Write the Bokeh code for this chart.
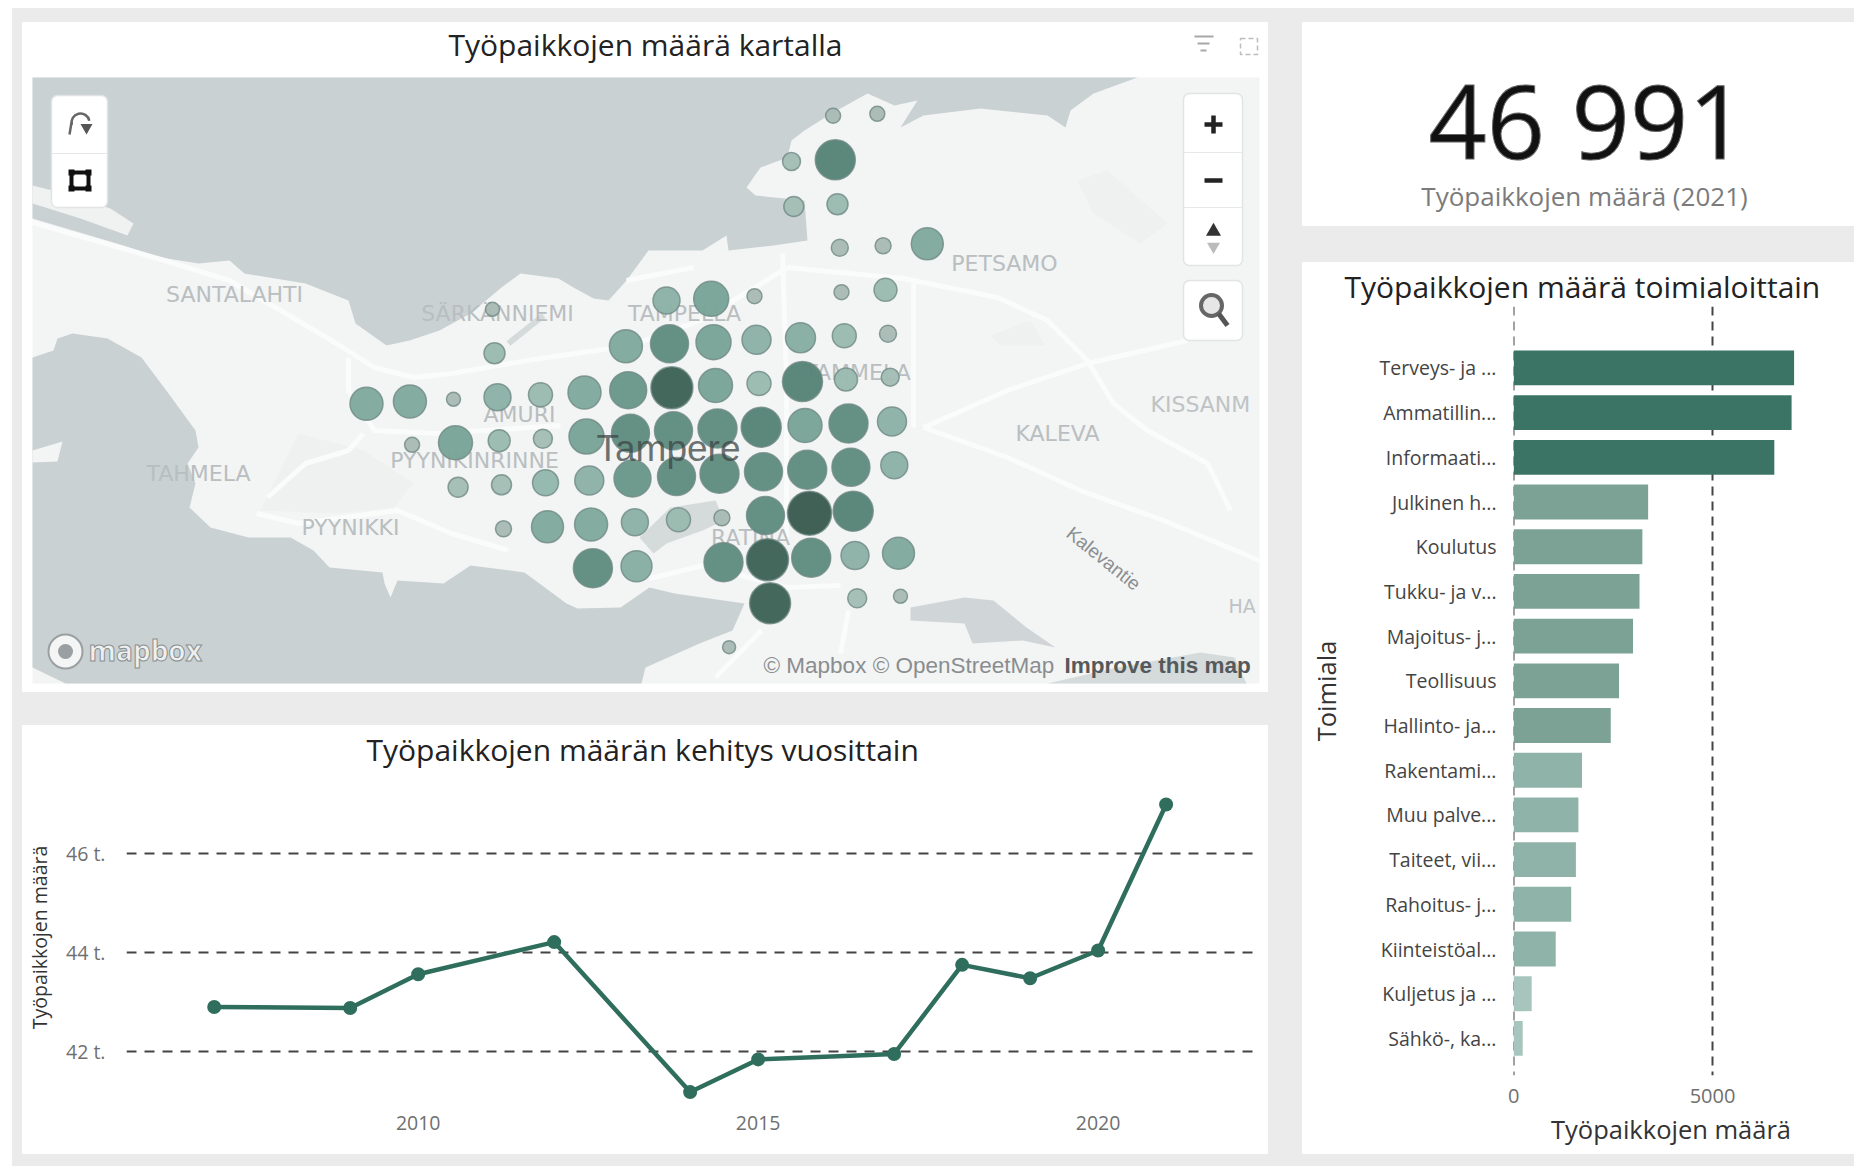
from bokeh.plotting import figure
from bokeh.layouts import row, column
from bokeh.embed import file_html
from bokeh.resources import INLINE
from bokeh.core.properties import value
from bokeh.models import Range1d, FixedTicker, LinearColorMapper, ColumnDataSource
from bokeh.transform import transform

# ---------- data ----------
KPI_VALUE = "46 991"
KPI_LABEL = "Työpaikkojen määrä (2021)"

years = [2007, 2009, 2010, 2012, 2014, 2015, 2017, 2018, 2019, 2020, 2021]
jobs_by_year = [42900, 42880, 43560, 44210, 41180, 41840, 41950, 43750, 43480, 44040, 46991]

industries = ["Terveys- ja ...", "Ammatillin...", "Informaati...", "Julkinen h...", "Koulutus",
              "Tukku- ja v...", "Majoitus- j...", "Teollisuus", "Hallinto- ja...", "Rakentami...",
              "Muu palve...", "Taiteet, vii...", "Rahoitus- j...", "Kiinteistöal...", "Kuljetus ja ...",
              "Sähkö-, ka..."]
industry_jobs = [7050, 6987, 6553, 3380, 3235, 3163, 3000, 2648, 2440, 1717, 1627, 1564, 1446, 1057, 452, 226]

# map grid cells: position on the map and jobs in the cell
cell_x = [832.6, 876.8, 791, 834.8, 793.3, 837, 839.3, 882.6, 926.8, 841, 885, 666, 710.7, 754, 492, 800, 843.8, 887.5,
          625.4, 669, 713, 756, 494,
          366, 409.4, 453, 497, 540, 584, 627.7, 671.4, 715, 758.5, 802, 845.5, 889.7,
          411.6, 455, 498.7, 542.4, 586, 630, 673, 717, 760.7, 804.5, 848, 891.5,
          457.6, 501, 545, 588.8, 632, 676, 719, 763, 806.7, 850.4, 893.8,
          503, 547, 590.6, 634.4, 678, 721.4, 765, 809, 852.7,
          592.4, 636, 723, 767, 810.7, 854.5, 898,
          769.6, 856.7, 900, 728.6]
cell_y = [115.3, 113.3, 161, 159.3, 206, 203.7, 247.3, 245.3, 243.3, 291.7, 289.3, 300, 298.3, 295.7, 308.7, 337.3, 335.3, 333.3,
          345.7, 343.3, 341.7, 339.3, 352.7,
          403.3, 401, 398.7, 396.7, 394.3, 392, 389.7, 387.3, 385, 383, 381, 379, 376.7,
          444.3, 442.3, 440.3, 438.3, 436, 432.7, 430.3, 428, 426.7, 425, 423, 421,
          486.7, 484.3, 482.3, 480, 478, 476, 473.3, 471.3, 469.3, 466.7, 464.7,
          528.3, 526.3, 524, 521.7, 519.3, 517.3, 515, 512.7, 510.7,
          567.7, 565.7, 561.7, 559.3, 557.3, 555, 552.7,
          602.7, 597.7, 595.7, 646.7]
cell_jobs = [132, 132, 190, 941, 235, 260, 170, 150, 602, 132, 311, 429, 721, 132, 115, 529, 339, 170,
             641, 849, 721, 495, 260,
             641, 641, 115, 429, 339, 641, 805, 1038, 680, 339, 941, 311, 190,
             132, 680, 285, 212, 721, 849, 849, 895, 941, 680, 895, 495,
             235, 235, 398, 495, 805, 849, 895, 849, 895, 849, 429,
             150, 602, 641, 429, 339, 150, 849, 1139, 941,
             895, 565, 895, 1038, 895, 461, 602,
             989, 212, 115, 100]

north_water_x = [32, 1137, 1093, 1070, 1065, 1047, 980, 923, 900, 917, 894, 867, 849, 831, 804, 791, 787, 760, 746, 755, 804, 807,
                 773, 728, 726, 702, 648, 626, 608, 593, 573, 558, 520, 501, 470, 439, 409, 386, 355, 348, 305, 244, 229, 198,
                 160, 123, 32]
north_water_y = [77, 77, 93, 110, 127, 115, 108, 115, 127, 100, 105, 93, 103, 113, 130, 140, 157, 167, 187, 195, 200, 240,
                 245, 250, 235, 250, 250, 280, 300, 298, 287, 278, 273, 287, 313, 330, 340, 345, 323, 300, 283, 273, 260, 263,
                 257, 245, 218]
strip_x = [32, 60, 110, 133, 127, 80, 32]
strip_y = [185, 192, 208, 223, 235, 218, 203]
south_water_x = [32, 53, 57, 72, 107, 141, 168, 195, 198, 187, 195, 189, 210, 248, 290, 313, 329, 382, 384, 390, 397, 443, 470,
                 524, 566, 577, 620, 649, 674, 744, 732, 699, 645, 641, 65, 32]
south_water_y = [357, 350, 338, 333, 338, 357, 393, 430, 447, 463, 483, 507, 527, 537, 537, 550, 567, 572, 583, 597, 580, 583, 565,
                 572, 603, 608, 607, 587, 593, 603, 630, 643, 667, 683, 683, 667]
island_x = [32, 62, 57, 32]
island_y = [450, 441, 461, 462]
east_pond_x = [910, 964, 993, 1026, 1055, 1022, 972, 964, 910]
east_pond_y = [607, 597, 600, 627, 647, 640, 643, 623, 620]
se_water_x = [1047, 1117, 1200, 1234, 1246]
se_water_y = [683, 667, 652, 657, 683]
lake_x = [639, 670, 715, 724, 702, 666, 653]
lake_y = [537, 507, 500, 520, 530, 543, 553]
road_xs = [[32, 164, 229, 275, 336, 374, 413, 451, 527, 630, 700, 787],
           [787, 903, 997, 1047, 1087, 1113, 1147, 1207, 1230],
           [923, 1007, 1087, 1187],
           [923, 1007, 1080, 1163, 1259],
           [913, 913],
           [782, 786, 786],
           [649, 703, 786, 840],
           [848, 840],
           [761, 715],
           [256, 298, 397, 451, 508],
           [267, 305, 348, 363],
           [348, 348, 374, 436, 560],
           [626, 693]]
road_ys = [[222, 260, 280, 307, 343, 367, 377, 373, 360, 345, 320, 267],
           [267, 278, 297, 320, 360, 403, 430, 463, 510],
           [427, 390, 363, 340],
           [427, 457, 490, 520, 560],
           [283, 427],
           [253, 380, 540],
           [578, 565, 587, 585],
           [610, 653],
           [630, 677],
           [513, 523, 510, 533, 550],
           [497, 463, 450, 433],
           [357, 390, 430, 433, 425],
           [280, 267]]
park_xs = [[260, 298, 363, 413, 393, 336],
           [1077, 1107, 1167, 1140, 1093],
           [990, 1030, 1045, 1000]]
park_ys = [[510, 433, 450, 483, 507, 513],
           [180, 170, 223, 243, 213],
           [335, 320, 345, 345]]

area_names = ["SANTALAHTI", "SÄRKÄNNIEMI", "TAMPELLA", "AMURI", "PYYNIKINRINNE", "TAHMELA", "PYYNIKKI", "RATINA", "TAMMELA",
              "PETSAMO", "KALEVA"]
area_x = [234, 497, 684, 519, 474, 198, 350, 750, 857, 1004, 1057]
area_y = [294, 313, 313, 414, 460, 473, 527, 537, 372, 263, 433]

OPEN = value("Open Sans")
PANEL = "#ffffff"
GREEN = "#2f6e5d"
TITLE_COLOR = "#222222"
PANEL_STYLE = {"background-color": PANEL}

# ---------- map panel ----------
m = figure(width=1246, height=670, x_range=Range1d(22, 1268), y_range=Range1d(692, 22),
           x_axis_location=None, y_axis_location=None, toolbar_location=None, output_backend="svg",
           min_border=0, outline_line_color=None, background_fill_color=PANEL, border_fill_color=PANEL,
           margin=(14, 0, 0, 10), frame_align=False, styles=PANEL_STYLE)
m.grid.visible = False

LAND, WATER = "#f3f4f4", "#c9d1d3"
m.quad(left=[32], right=[1259], top=[77], bottom=[683], fill_color=LAND, line_color=None)
m.multi_polygons(xs=[[[park_xs[i]]] for i in range(3)], ys=[[[park_ys[i]]] for i in range(3)],
                 fill_color="#eff0f0", line_color=None)
for px, py, col in [(north_water_x, north_water_y, WATER), (strip_x, strip_y, "#f0f1f1"),
                    (south_water_x, south_water_y, WATER), (island_x, island_y, LAND),
                    (east_pond_x, east_pond_y, "#d0d6d8"), (se_water_x, se_water_y, "#d5dadb"),
                    (lake_x, lake_y, "#d5dadb")]:
    m.patch(px, py, fill_color=col, line_color=None)
m.multi_line(road_xs, road_ys, line_color="#fafbfb", line_width=5)
m.line([508, 543], [343, 315], line_color="#d5dadb", line_width=6)
m.text(x=area_x, y=area_y, text=area_names, text_font=value("DejaVu Sans"), text_font_size="22px", text_color="#b9bec0",
       text_align="center", text_baseline="middle")
m.text(x=[1150], y=[404], text=["KISSANM"], text_font=value("DejaVu Sans"), text_font_size="22px",
       text_color="#bec3c5", text_align="left", text_baseline="middle")
m.text(x=[1228], y=[605], text=["HA"], text_font=value("DejaVu Sans"), text_font_size="19px",
       text_color="#bec3c5", text_align="left", text_baseline="middle")
m.text(x=[1103], y=[558], text=["Kalevantie"], angle=[-0.68], text_font=value("Liberation Sans"), text_font_size="19px",
       text_color="#8b8f91", text_align="center", text_baseline="middle")

palette = ["#a9bab5", "#a3bdb5", "#9abbb1", "#93b7ad", "#8cb2a7", "#87aea3", "#80a99d", "#79a497",
           "#6a988b", "#5f8d80", "#578478", "#3f6358", "#3b5c52"]
mapper = LinearColorMapper(palette=palette, low=100, high=1140)
cells = ColumnDataSource(dict(x=cell_x, y=cell_y, jobs=cell_jobs, size=[(j * 1.7) ** 0.5 for j in cell_jobs]))
m.scatter("x", "y", size="size", source=cells, fill_color=transform("jobs", mapper), fill_alpha=0.97,
          line_color="#6f8a84", line_width=1.5, line_alpha=0.8)

m.text(x=[668], y=[448], text=["Tampere"], text_font=value("Liberation Sans"), text_font_size="37px", text_color="#3e4646",
       text_alpha=0.75, text_align="center", text_baseline="middle")

# map attribution and logo
m.text(x=[763], y=[665], text=["© Mapbox © OpenStreetMap"], text_font=value("Liberation Sans"), text_font_size="22.5px",
       text_color="#8a8d8f", text_baseline="middle")
m.text(x=[1064], y=[665], text=["Improve this map"], text_font=value("Liberation Sans"), text_font_style="bold",
       text_font_size="22.5px", text_color="#55595b", text_baseline="middle")
m.scatter([65], [651], size=34, fill_color="#f4f5f5", line_color="#9a9fa1", line_width=2)
m.scatter([65], [651], size=15, fill_color="#9a9fa1", line_color=None)
m.text(x=[88], y=[649], text=["mapbox"], text_font=value("Open Sans"), text_font_style="bold", text_font_size="28px",
       text_color="#eef0f0", text_outline_color="#8a8f91", text_baseline="middle")

# map controls
m.quad(left=[51, 1183, 1183], right=[107, 1242, 1242], top=[95, 93, 280], bottom=[207, 265, 340], fill_color="#ffffff",
       line_color="#e2e4e4", line_width=1.5, border_radius=6)
m.segment(x0=[51, 1183, 1183], y0=[153, 152, 207], x1=[107, 1242, 1242], y1=[153, 152, 207], line_color="#e6e7e7", line_width=1)
m.arc(x=[80], y=[122], radius=9, radius_units="screen", start_angle=0.2, end_angle=3.4, line_color="#666666", line_width=2.5)
m.segment(x0=[71], y0=[122], x1=[69], y1=[134], line_color="#666666", line_width=2.5)
m.scatter([86], [127], marker="inverted_triangle", size=12, fill_color="#555555", line_color=None)
m.quad(left=[71], right=[88], top=[172], bottom=[188], fill_color=None, line_color="#111111", line_width=4)
m.scatter([71, 88, 71, 88], [172, 172, 188, 188], marker="square", size=6, fill_color="#111111", line_color=None)
m.segment(x0=[1204, 1213, 1204], y0=[124, 115, 180], x1=[1222, 1213, 1222], y1=[124, 133, 180], line_color="#222222", line_width=4.5)
m.scatter([1213], [231], marker="triangle", size=15, fill_color="#333333", line_color=None)
m.scatter([1213], [246], marker="inverted_triangle", size=13, fill_color="#bbbbbb", line_color=None)
m.scatter([1211], [305], size=21, fill_color="#e6e6e6", line_color="#666666", line_width=4)
m.segment(x0=[1218], y0=[313], x1=[1227], y1=[325], line_color="#555555", line_width=5)
# panel icons
m.segment(x0=[1194, 1197, 1200], y0=[36, 43, 50], x1=[1213, 1209, 1206], y1=[36, 43, 50], line_color="#a8a8a8", line_width=2)
m.quad(left=[1240], right=[1257], top=[38], bottom=[54], fill_color=None, line_color="#bdbdbd", line_width=1.5, line_dash="5 3")

m.text(x=[645], y=[44], text=["Työpaikkojen määrä kartalla"], text_font=OPEN, text_font_size="30px", text_color=TITLE_COLOR,
       text_align="center", text_baseline="middle")

# ---------- yearly line ----------
l = figure(width=1246, height=429, x_range=Range1d(2005.71, 2022.3), y_range=Range1d(40909, 47697),
           toolbar_location=None, output_backend="svg", outline_line_color=None,
           background_fill_color=PANEL, border_fill_color=PANEL, margin=(33, 0, 0, 10), frame_align=False, styles=PANEL_STYLE,
           min_border_left=104, min_border_right=14, min_border_top=44, min_border_bottom=49,
           title="Työpaikkojen määrän kehitys vuosittain")
l.title.text_font = "Open Sans"
l.title.text_font_size = "30px"
l.title.text_font_style = "normal"
l.title.text_color = TITLE_COLOR
l.title.text_line_height = 1.0
l.title.align = "left"
l.title.offset = 240
l.title.standoff = 0
l.line(years, jobs_by_year, line_color=GREEN, line_width=4.5)
l.scatter(years, jobs_by_year, size=14, fill_color=GREEN, line_color=None)
l.xaxis.ticker = FixedTicker(ticks=[2010, 2015, 2020])
l.yaxis.ticker = FixedTicker(ticks=[42000, 44000, 46000])
l.yaxis.major_label_overrides = {42000: "42 t.", 44000: "44 t.", 46000: "46 t."}
l.yaxis.axis_label = "Työpaikkojen määrä"
l.yaxis.axis_label_text_font = "Open Sans"
l.yaxis.axis_label_text_font_size = "19.5px"
l.yaxis.axis_label_text_font_style = "normal"
l.yaxis.axis_label_text_color = "#333333"
l.yaxis.axis_label_standoff = 10
for ax in (l.xaxis[0], l.yaxis[0]):
    ax.axis_line_color = None
    ax.major_tick_line_color = None
    ax.minor_tick_line_color = None
    ax.major_label_text_font = "Open Sans"
    ax.major_label_text_font_size = "19.5px"
    ax.major_label_text_color = "#6f6f6f"
l.xaxis.major_label_standoff = 4
l.yaxis.major_label_standoff = 15
l.xgrid.visible = False
l.ygrid.grid_line_color = "#444444"
l.ygrid.grid_line_width = 2
l.ygrid.grid_line_dash = "10 8"

# ---------- KPI ----------
k = figure(width=552, height=204, x_range=Range1d(1302, 1854), y_range=Range1d(226, 22),
           x_axis_location=None, y_axis_location=None, toolbar_location=None, output_backend="svg",
           min_border=0, outline_line_color=None, background_fill_color=PANEL, border_fill_color=PANEL,
           margin=(14, 0, 0, 34), frame_align=False, styles=PANEL_STYLE)
k.grid.visible = False
k.text(x=[1587], y=[119], text=[KPI_VALUE], text_font=OPEN, text_font_size="102px", text_color="#111111",
       text_outline_color="#666666", text_align="center", text_baseline="middle")
k.text(x=[1584], y=[195], text=[KPI_LABEL], text_font=OPEN, text_font_size="26px", text_color="#7b7b7b",
       text_align="center", text_baseline="middle")

# ---------- bars ----------
def bar_colour(v):
    if v > 5000:
        return "#3b7464"
    if v > 2000:
        return "#7ca296"
    if v > 1000:
        return "#90b3a9"
    return "#a8c5bd"

positions = list(range(len(industries)))
b = figure(width=552, height=892, x_range=Range1d(-5, 7915), y_range=Range1d(15.83, -1.374),
           toolbar_location=None, output_backend="svg", outline_line_color=None,
           background_fill_color=PANEL, border_fill_color=PANEL, margin=(36, 0, 0, 34), frame_align=False, styles=PANEL_STYLE,
           min_border_left=211, min_border_right=26, min_border_top=44, min_border_bottom=79,
           title="Työpaikkojen määrä toimialoittain")
b.title.text_font = "Open Sans"
b.title.text_font_size = "30px"
b.title.text_font_style = "normal"
b.title.text_color = TITLE_COLOR
b.title.text_line_height = 1.0
b.title.align = "left"
b.title.offset = -169
b.title.standoff = 0
b.hbar(y=positions, right=industry_jobs, left=0, height=0.78, fill_color=[bar_colour(v) for v in industry_jobs], line_color=None)
b.yaxis.ticker = FixedTicker(ticks=positions)
b.yaxis.major_label_overrides = dict(zip(positions, industries))
b.xaxis.ticker = FixedTicker(ticks=[0, 5000])
b.xaxis.axis_label = "Työpaikkojen määrä"
b.yaxis.axis_label = "Toimiala"
for ax in (b.xaxis[0], b.yaxis[0]):
    ax.axis_line_color = None
    ax.major_tick_line_color = None
    ax.minor_tick_line_color = None
    ax.major_label_text_font = "Open Sans"
    ax.axis_label_text_font = "Open Sans"
    ax.axis_label_text_font_size = "25.5px"
    ax.axis_label_text_font_style = "normal"
    ax.axis_label_text_color = "#333333"
b.xaxis.major_label_text_font_size = "20px"
b.xaxis.major_label_text_color = "#6f6f6f"
b.yaxis.major_label_text_font_size = "19.5px"
b.yaxis.major_label_text_color = "#444444"
b.xaxis.major_label_standoff = 7
b.yaxis.major_label_standoff = 11
b.xaxis.axis_label_standoff = 6
b.yaxis.axis_label_standoff = 34
b.ygrid.visible = False
b.xgrid.grid_line_color = "#444444"
b.xgrid.grid_line_width = 2
b.xgrid.grid_line_dash = "9 6"
b.xgrid.bounds = (-0.67, 15.83)

root = row(column(m, l, spacing=0), column(k, b, spacing=0), spacing=0, width=1842, height=1158,
           margin=(8, 0, 0, 12), styles={"background-color": "#ebebeb"})

open("out.html", "w").write(file_html(root, INLINE))
